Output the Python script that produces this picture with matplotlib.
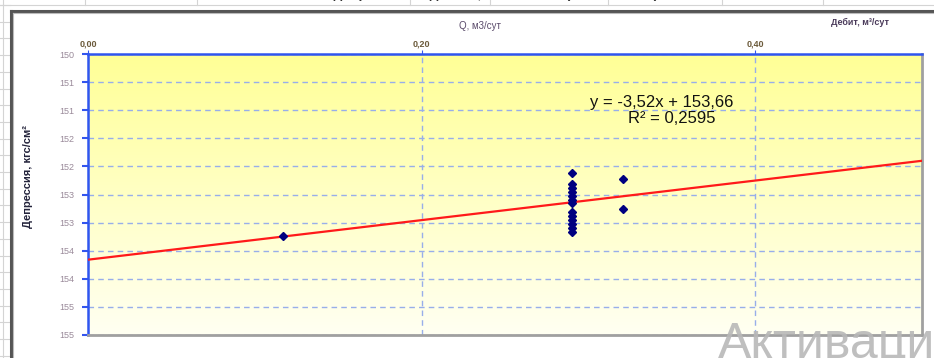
import numpy as np
import matplotlib
matplotlib.use("Agg")
import matplotlib.pyplot as plt
from matplotlib.lines import Line2D
from matplotlib.ticker import FixedLocator, FuncFormatter

plt.rcParams['font.family'] = ['Liberation Sans', 'DejaVu Sans']

# --- data ---
q_debit = [0.117,
           0.29, 0.29, 0.29, 0.29, 0.29, 0.29, 0.29,
           0.29, 0.29, 0.29, 0.29, 0.29, 0.29,
           0.321, 0.321]
depression = [153.23,
              152.12, 152.31, 152.38, 152.46, 152.53, 152.60, 152.65,
              152.81, 152.88, 152.95, 153.02, 153.10, 153.17,
              152.22, 152.75]

trend_slope = -3.52
trend_intercept = 153.66
r_squared = 0.2595

x_ticks = [0.0, 0.2, 0.4]
y_ticks = [150.0, 150.5, 151.0, 151.5, 152.0, 152.5, 153.0, 153.5, 154.0, 154.5, 155.0]

W, H = 934, 358
fig = plt.figure(figsize=(W / 100, H / 100), dpi=100)
fig.patch.set_facecolor('white')

# --- spreadsheet background outside the chart ---
grid_c = '#d4d4d4'
for yy in np.arange(5, H, 16.7):
    fig.add_artist(Line2D([0, 10 / W], [1 - yy / H] * 2, color=grid_c, lw=0.8))
fig.add_artist(Line2D([3 / W, 3 / W], [0, 1], color=grid_c, lw=0.8))
fig.add_artist(Line2D([0, 1], [1 - 5 / H] * 2, color=grid_c, lw=0.8))
for xx in [85, 197, 410, 490, 608, 722, 823]:
    fig.add_artist(Line2D([xx / W] * 2, [1 - 5 / H, 1], color=grid_c, lw=0.8))
fig.text(0.42, 1 + 6 / H, 'Скважина 1. От  Зависимость депрессии от дебита, Пласт ЮС1 (2009-2011 гг.)',
         ha='center', va='center', fontsize=10, color='#333333', fontweight='bold')

# chart area frame
fig.add_artist(Line2D([11 / W, 11 / W], [0, 1 - 11 / H], color='#555555', lw=2.2))
fig.add_artist(Line2D([11 / W, 1], [1 - 11 / H] * 2, color='#555555', lw=2.2))
fig.add_artist(Line2D([13 / W, 13 / W], [0, 1 - 13 / H], color='#bbbbbb', lw=0.8))
fig.add_artist(Line2D([13 / W, 1], [1 - 13 / H] * 2, color='#bbbbbb', lw=0.8))

# --- plot area ---
ax = fig.add_axes([88 / W, 1 - 335 / H, (922 - 88) / W, (335 - 54) / H])
ax.set_xlim(0, 0.5)
ax.set_ylim(155, 150)

grad = np.linspace(0, 1, 256).reshape(-1, 1)
top = np.array([255, 255, 150]) / 255
bot = np.array([255, 255, 242]) / 255
img = top + (bot - top) * grad[..., None]
ax.imshow(img, extent=[0, 1, 0, 1], transform=ax.transAxes, aspect='auto', zorder=0)

ax.xaxis.set_major_locator(FixedLocator(x_ticks))
ax.yaxis.set_major_locator(FixedLocator(y_ticks))
ax.xaxis.set_major_formatter(FuncFormatter(lambda v, p: f'{v:.2f}'.replace('.', ',')))
ax.yaxis.set_major_formatter(FuncFormatter(lambda v, p: f'{int(v + 0.5)}'))
ax.xaxis.tick_top()
ax.tick_params(axis='x', colors='#3355ee', labelcolor='#6b5a3a', labelsize=6.5, length=3, pad=1)
ax.tick_params(axis='y', colors='#3355ee', labelcolor='#9a8a9a', labelsize=6.5, length=4, width=1.5, pad=6)
for lab in ax.get_xticklabels():
    lab.set_fontweight('bold')

ax.grid(True, color='#98aeea', ls=(0, (4, 3)), lw=1.0)
ax.set_axisbelow(True)

ax.spines['top'].set_color('#2f55f0')
ax.spines['left'].set_color('#2f55f0')
ax.spines['top'].set_linewidth(1.8)
ax.spines['left'].set_linewidth(1.8)
ax.spines['right'].set_color('#a0a0a0')
ax.spines['bottom'].set_color('#a0a0a0')
ax.spines['right'].set_linewidth(2.0)
ax.spines['bottom'].set_linewidth(2.0)

# trendline from the fitted coefficients
xs = np.array([0.0, 0.5])
ax.plot(xs, trend_slope * xs + trend_intercept, color='#ff1a1a', lw=1.6, zorder=3)
ax.plot(q_debit, depression, ls='none', marker='D', ms=4.5, color='#000080', zorder=4)

ax.text(0.688, 0.826, 'y = -3,52x + 153,66', transform=ax.transAxes, fontsize=12,
        ha='center', va='center', color='#111111')
ax.text(0.70, 0.772, f'R² = {r_squared:.4f}'.replace('.', ','), transform=ax.transAxes,
        fontsize=12, ha='center', va='center', color='#111111')

# axis titles
fig.text(480 / W, 1 - 26 / H, 'Q, м3/сут', ha='center', va='center', fontsize=7, color='#5a4a6a')
fig.text(860 / W, 1 - 22 / H, 'Дебит, м³/сут', ha='center', va='center', fontsize=6.5,
         color='#4a3a5a', fontweight='bold')
fig.text(28 / W, 1 - 177 / H, 'Депрессия, кгс/см²', ha='center', va='center', rotation=90,
         fontsize=8, color='#22223a', fontweight='bold')

# watermark
fig.text(718 / W, 1 - 358 / H, 'Активация', ha='left', va='baseline', fontsize=36,
         color='#b8b8b8', alpha=0.9)

fig.savefig('out.png', dpi=100)
